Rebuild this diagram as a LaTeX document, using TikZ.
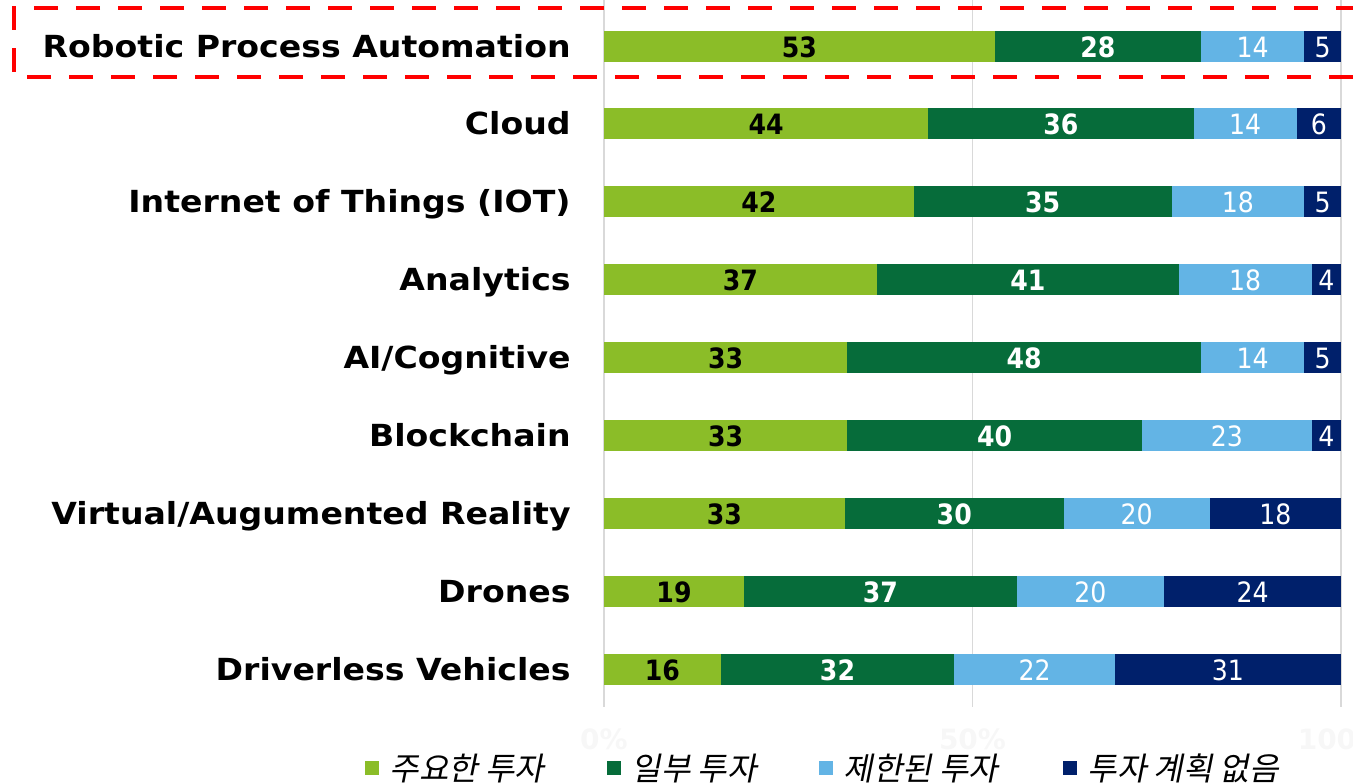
\documentclass[tikz,border=0pt]{standalone}
\usepackage{fontspec}
\setmainfont{DejaVu Sans}
\newfontfamily\lblfont[FakeStretch=1.09]{DejaVu Sans}
\newfontfamily\numfont{DejaVu Sans Condensed}
\newfontfamily\krfont[FakeSlant=0.2]{Noto Sans CJK KR}
\usetikzlibrary{positioning}
\definecolor{lgreen}{HTML}{8BBD28}
\definecolor{dgreen}{HTML}{066C3A}
\definecolor{lblue}{HTML}{63B4E5}
\definecolor{navy}{HTML}{00206B}
\definecolor{gridgray}{HTML}{D9D9D9}

\begin{document}
\begin{tikzpicture}
[x=0.5pt,y=-0.5pt,
rowlbl/.style={anchor=base east,inner sep=0pt,font=\fontsize{15.2}{15}\selectfont\lblfont\bfseries},
num/.style={anchor=base,inner sep=0pt,font=\fontsize{14}{14}\selectfont\numfont},
axlbl/.style={anchor=base,inner sep=0pt,text=black!3,font=\fontsize{14}{14}\selectfont\bfseries},
key/.style={fill=#1,minimum size=7pt,inner sep=0pt},
keytxt/.style={inner sep=0pt,anchor=west,font=\fontsize{16}{16}\selectfont\krfont}]
\useasboundingbox (0,0) rectangle (1353,783);
\foreach \gx in {604,972.5,1341}
\draw[gridgray,line width=0.6pt] (\gx,0) -- (\gx,707);
\foreach \lbl/\a/\b/\c/\d [count=\i] in {Robotic Process Automation/53/28/14/5,Cloud/44/36/14/6,Internet of Things (IOT)/42/35/18/5,Analytics/37/41/18/4,{AI/Cognitive}/33/48/14/5,Blockchain/33/40/23/4,{Virtual/Augumented Reality}/33/30/20/18,Drones/19/37/20/24,Driverless Vehicles/16/32/22/31}
{
\pgfmathsetmacro\yy{46+77.9*(\i-1)}
\pgfmathsetmacro\u{737/(\a+\b+\c+\d)}
\pgfmathsetmacro\xa{604+\u*\a}
\pgfmathsetmacro\xb{604+\u*(\a+\b)}
\pgfmathsetmacro\xc{604+\u*(\a+\b+\c)}
\node[rowlbl] (r\i) at (571,\yy+11) {\lbl};
\fill[lgreen] (604,\yy-15.5) rectangle (\xa,\yy+15.5);
\fill[dgreen] (\xa,\yy-15.5) rectangle (\xb,\yy+15.5);
\fill[lblue] (\xb,\yy-15.5) rectangle (\xc,\yy+15.5);
\fill[navy] (\xc,\yy-15.5) rectangle (1341,\yy+15.5);
\node[num,font=\fontsize{14}{14}\selectfont\numfont\bfseries] (a\i) at ({(604+\xa)/2},\yy+11) {\a};
\node[num,text=white,font=\fontsize{14}{14}\selectfont\numfont\bfseries] (b\i) at ({(\xa+\xb)/2},\yy+11) {\b};
\node[num,text=white] (c\i) at ({(\xb+\xc)/2},\yy+11) {\c};
\node[num,text=white] (d\i) at ({(\xc+1341)/2},\yy+11) {\d};
}
\draw[red,line width=2pt,dash pattern=on 12pt off 9pt] (1360,8) -- (14,8) -- (14,77) -- (1360,77);
\node[axlbl] (ax0) at (604,749) {0\%};
\node[axlbl] (ax50) at (972.5,749) {50\%};
\node[axlbl] (ax100) at (1341,749) {100\%};
\node[key=lgreen] (k1) at (372,768) {};
\node[keytxt,right=5pt of k1] (t1) {주요한 투자};
\node[key=dgreen] (k2) at (614,768) {};
\node[keytxt,right=5pt of k2] (t2) {일부 투자};
\node[key=lblue] (k3) at (826,768) {};
\node[keytxt,right=5pt of k3] (t3) {제한된 투자};
\node[key=navy] (k4) at (1070,768) {};
\node[keytxt,right=5pt of k4] (t4) {투자 계획 없음};
\end{tikzpicture}
\end{document}
